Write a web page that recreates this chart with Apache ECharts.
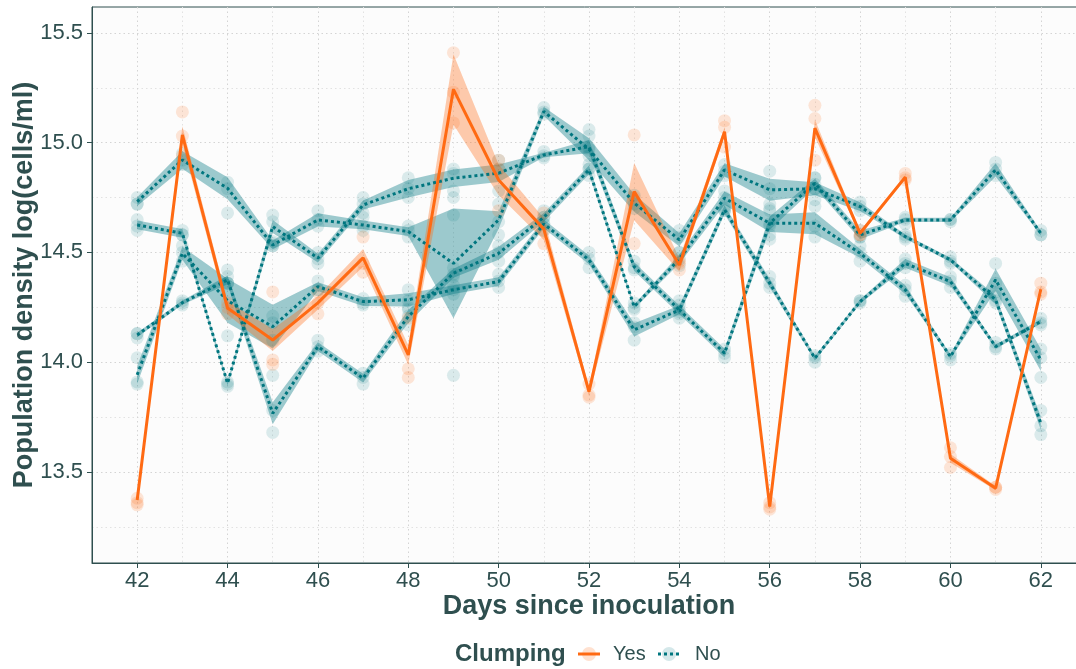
<!DOCTYPE html>
<html><head><meta charset="utf-8">
<script src="https://cdn.jsdelivr.net/npm/echarts@6/dist/echarts.min.js"></script>
<style>html,body{margin:0;padding:0;background:#fff}#c{width:1076px;height:669px}</style>
</head><body><div id="c"></div>
<script>
const days = [42,43,44,45,46,47,48,49,50,51,52,53,54,55,56,57,58,59,60,61,62];
const xTicks = [42,44,46,48,50,52,54,56,58,60,62];
const yTicks = [13.5,14,14.5,15,15.5];

// Clumping = Yes (orange)
const yesMean = [13.372,15.035,14.247,14.101,14.27,14.475,14.033,15.243,14.83,14.606,13.866,14.777,14.443,15.05,13.342,15.066,14.587,14.843,13.562,13.426,14.332];
const yesSE   = [0.01,0.04,0.03,0.05,0.03,0.04,0.045,0.16,0.07,0.05,0.02,0.13,0.03,0.02,0.01,0.04,0.01,0.01,0.02,0.01,0.02];
const yesPoints = [
 [13.35,13.36,13.38],[15.14,15.03,14.94],[14.22,14.25,14.27],[14.32,14.01,13.99],[14.32,14.27,14.22],
 [14.57,14.45,14.41],[14.20,13.97,13.93],[15.41,15.23,15.09],[14.92,14.88,14.69],[14.68,14.60,14.54],
 [13.84,13.85,13.90],[15.035,14.75,14.54],[14.42,14.45,14.46],[15.10,15.07,14.98],[13.33,13.34,13.36],
 [15.17,15.11,14.92],[14.58,14.60,14.58],[14.86,14.84,14.83],[13.61,13.57,13.52],[13.43,13.42,13.43],
 [14.36,14.32,14.31]
];

// Clumping = No (teal), four cultures
const noMean1 = [14.731,14.921,14.792,14.534,14.648,14.625,14.595,14.45,14.648,15.142,14.97,14.725,14.557,14.876,14.785,14.79,14.709,14.572,14.466,14.284,13.722];
const noMean2 = [14.625,14.587,13.904,14.618,14.474,14.716,14.79,14.838,14.861,14.944,14.982,14.435,14.238,14.694,14.36,14.018,14.276,14.45,14.367,14.071,14.185];
const noMean3 = [14.124,14.271,14.375,13.767,14.071,13.927,14.208,14.405,14.496,14.66,14.876,14.253,14.47,14.747,14.633,14.633,14.496,14.33,14.025,14.375,14.01];
const noMean4 = [13.942,14.496,14.28,14.162,14.344,14.276,14.284,14.33,14.367,14.63,14.466,14.147,14.238,14.041,14.633,14.815,14.58,14.648,14.648,14.876,14.587];
const noSE1 = [0.02,0.04,0.05,0.02,0.03,0.02,0.02,0.25,0.04,0.02,0.05,0.04,0.03,0.03,0.05,0.03,0.02,0.01,0.01,0.02,0.03];
const noSE2 = [0.02,0.02,0.01,0.03,0.02,0.02,0.04,0.04,0.04,0.01,0.03,0.02,0.02,0.02,0.02,0.01,0.01,0.02,0.02,0.01,0.01];
const noSE3 = [0.01,0.01,0.02,0.05,0.02,0.02,0.03,0.02,0.03,0.02,0.02,0.01,0.02,0.03,0.04,0.05,0.02,0.02,0.01,0.05,0.05];
const noSE4 = [0.04,0.03,0.10,0.10,0.02,0.02,0.03,0.02,0.02,0.02,0.02,0.03,0.02,0.02,0.03,0.02,0.02,0.01,0.01,0.03,0.01];
const noPoints = [
 [14.75,14.72,14.72,14.65,14.62,14.60,14.13,14.11,14.13,14.02,13.91,13.90],
 [14.95,14.92,14.90,14.60,14.58,14.58,14.53,14.50,14.46,14.28,14.27,14.26],
 [14.82,14.79,14.68,14.42,14.39,14.36,14.36,14.36,14.12,13.91,13.90,13.89],
 [14.67,14.64,14.55,14.53,14.53,14.54,14.21,14.18,14.10,13.94,13.78,13.68],
 [14.69,14.65,14.62,14.50,14.47,14.45,14.37,14.33,14.33,14.10,14.07,14.05],
 [14.75,14.72,14.68,14.66,14.62,14.60,14.29,14.27,14.26,13.95,13.93,13.90],
 [14.84,14.79,14.75,14.62,14.60,14.57,14.33,14.28,14.24,14.25,14.21,14.17],
 [14.88,14.86,14.78,14.75,14.67,13.94,14.43,14.40,14.39,14.35,14.33,14.31],
 [14.92,14.88,14.78,14.72,14.64,14.58,14.53,14.50,14.46,14.40,14.37,14.34],
 [15.16,15.14,15.13,14.96,14.94,14.93,14.69,14.66,14.63,14.66,14.63,14.60],
 [15.06,14.97,14.88,15.03,14.98,14.94,14.90,14.88,14.85,14.50,14.47,14.43],
 [14.76,14.72,14.70,14.46,14.43,14.42,14.27,14.25,14.24,14.16,14.18,14.10],
 [14.60,14.57,14.50,14.50,14.47,14.44,14.28,14.24,14.20,14.26,14.22,14.23],
 [14.90,14.87,14.85,14.78,14.75,14.71,14.69,14.70,14.69,14.06,14.04,14.02],
 [14.87,14.79,14.70,14.72,14.62,14.56,14.69,14.63,14.58,14.39,14.36,14.34],
 [14.84,14.79,14.74,14.84,14.81,14.79,14.71,14.62,14.57,14.03,14.02,14.00],
 [14.73,14.71,14.69,14.60,14.57,14.57,14.53,14.50,14.46,14.28,14.27,14.28],
 [14.66,14.65,14.63,14.58,14.57,14.56,14.47,14.45,14.43,14.35,14.33,14.30],
 [14.65,14.65,14.64,14.48,14.46,14.45,14.39,14.37,14.34,14.04,14.03,14.01],
 [14.91,14.88,14.85,14.45,14.36,14.32,14.30,14.28,14.27,14.09,14.07,14.06],
 [14.60,14.58,14.58,14.20,14.18,14.17,14.06,14.02,13.93,13.78,13.71,13.67]
];

const ORANGE = '#ff6a13';
const TEAL = '#00767f';
const TXT = '#2f4f4f';
const FONT = "'Liberation Sans', Arial, sans-serif";

function flatten(ptsByDay) {
  const out = [];
  ptsByDay.forEach((arr, i) => arr.forEach(v => out.push([days[i], v])));
  return out;
}
function lineData(mean) { return days.map((d, i) => [d, mean[i]]); }
function ribbon(name, mean, se, fill, z) {
  return {
    type: 'custom', name: name, z: z, silent: true,
    data: [[days[0], mean[0]]],
    encode: {x: 0, y: 1},
    renderItem: function (params, api) {
      const pts = [];
      for (let i = 0; i < days.length; i++) pts.push(api.coord([days[i], mean[i] + se[i]]));
      for (let i = days.length - 1; i >= 0; i--) pts.push(api.coord([days[i], mean[i] - se[i]]));
      return {type: 'polygon', shape: {points: pts}, style: {fill: fill}};
    }
  };
}
function tealLine(mean) {
  return {type: 'line', name: 'No', z: 4, data: lineData(mean), symbol: 'none', silent: true,
    lineStyle: {color: TEAL, width: 3, type: [3, 3], cap: 'butt'}, itemStyle: {color: TEAL}};
}

const LY = 654;
const chart = echarts.init(document.getElementById('c'), null, {renderer: 'canvas'});
chart.setOption({
  animation: false,
  textStyle: {fontFamily: FONT},
  grid: {left: 92, right: -10, top: 7, bottom: 106, show: true, backgroundColor: '#fcfcfc',
         borderColor: TXT, borderWidth: 1, containLabel: false, outerBoundsMode: 'none'},
  graphic: [
    {type: 'text', x: 455, y: LY, silent: true,
     style: {text: 'Clumping', fontFamily: FONT, fontSize: 24, fontWeight: 'bold', fill: TXT, verticalAlign: 'middle'}},
    {type: 'circle', silent: true, shape: {cx: 589, cy: LY, r: 7}, style: {fill: 'rgba(255,106,19,0.2)'}},
    {type: 'line', silent: true, shape: {x1: 578, y1: LY, x2: 600, y2: LY}, style: {stroke: ORANGE, lineWidth: 3}},
    {type: 'text', x: 613, y: LY, silent: true,
     style: {text: 'Yes', fontFamily: FONT, fontSize: 20, fill: TXT, verticalAlign: 'middle'}},
    {type: 'circle', silent: true, shape: {cx: 669, cy: LY, r: 7}, style: {fill: 'rgba(0,118,128,0.17)'}},
    {type: 'line', silent: true, shape: {x1: 658, y1: LY, x2: 681, y2: LY}, style: {stroke: TEAL, lineWidth: 3, lineDash: [3, 3]}},
    {type: 'text', x: 695, y: LY, silent: true,
     style: {text: 'No', fontFamily: FONT, fontSize: 20, fill: TXT, verticalAlign: 'middle'}}
  ],
  xAxis: {
    type: 'value', min: 41, max: 63, splitNumber: 10, minInterval: 2, maxInterval: 2,
    name: 'Days since inoculation', nameLocation: 'middle', nameGap: 30, nameMoveOverlap: false,
    nameTextStyle: {fontFamily: FONT, fontSize: 27, fontWeight: 'bold', color: TXT},
    axisLine: {show: true, lineStyle: {color: TXT, width: 1}},
    axisTick: {show: true, length: 5, lineStyle: {color: TXT}, customValues: xTicks},
    axisLabel: {customValues: xTicks, margin: 7, fontSize: 22, color: TXT, fontFamily: FONT},
    splitLine: {show: true, lineStyle: {color: '#d4d4d4', type: [1.5, 3], width: 1}},
    minorTick: {show: false, splitNumber: 2},
    minorSplitLine: {show: true, lineStyle: {color: '#e2e2e2', type: [1.5, 3], width: 1}}
  },
  yAxis: {
    type: 'value', min: 13.085, max: 15.618, splitNumber: 5, minInterval: 0.5, maxInterval: 0.5,
    name: 'Population density log(cells/ml)', nameLocation: 'middle', nameGap: 54, nameMoveOverlap: false,
    nameTextStyle: {fontFamily: FONT, fontSize: 27, fontWeight: 'bold', color: TXT},
    axisLine: {show: true, lineStyle: {color: TXT, width: 1}},
    axisTick: {show: true, length: 5, lineStyle: {color: TXT}, customValues: yTicks},
    axisLabel: {customValues: yTicks, margin: 9, fontSize: 22, color: TXT, fontFamily: FONT,
                formatter: v => Number(v).toFixed(1)},
    splitLine: {show: true, lineStyle: {color: '#d4d4d4', type: [1.5, 3], width: 1}},
    minorTick: {show: false, splitNumber: 2},
    minorSplitLine: {show: true, lineStyle: {color: '#e2e2e2', type: [1.5, 3], width: 1}}
  },
  series: [
    ribbon('noRib1', noMean1, noSE1, 'rgba(0,118,128,0.38)', 1),
    ribbon('noRib2', noMean2, noSE2, 'rgba(0,118,128,0.38)', 1),
    ribbon('noRib3', noMean3, noSE3, 'rgba(0,118,128,0.38)', 1),
    ribbon('noRib4', noMean4, noSE4, 'rgba(0,118,128,0.38)', 1),
    ribbon('yesRib', yesMean, yesSE, 'rgba(255,106,19,0.35)', 1),
    {type: 'scatter', name: 'noPts', z: 2, silent: true, data: flatten(noPoints), symbolSize: 13,
     itemStyle: {color: 'rgba(0,118,128,0.17)'}},
    {type: 'scatter', name: 'yesPts', z: 2, silent: true, data: flatten(yesPoints), symbolSize: 13,
     itemStyle: {color: 'rgba(255,106,19,0.2)'}},
    tealLine(noMean1), tealLine(noMean2), tealLine(noMean3), tealLine(noMean4),
    {type: 'line', name: 'Yes', z: 5, data: lineData(yesMean), symbol: 'none', silent: true,
     lineStyle: {color: ORANGE, width: 3}, itemStyle: {color: ORANGE}}
  ]
});
</script></body></html>
